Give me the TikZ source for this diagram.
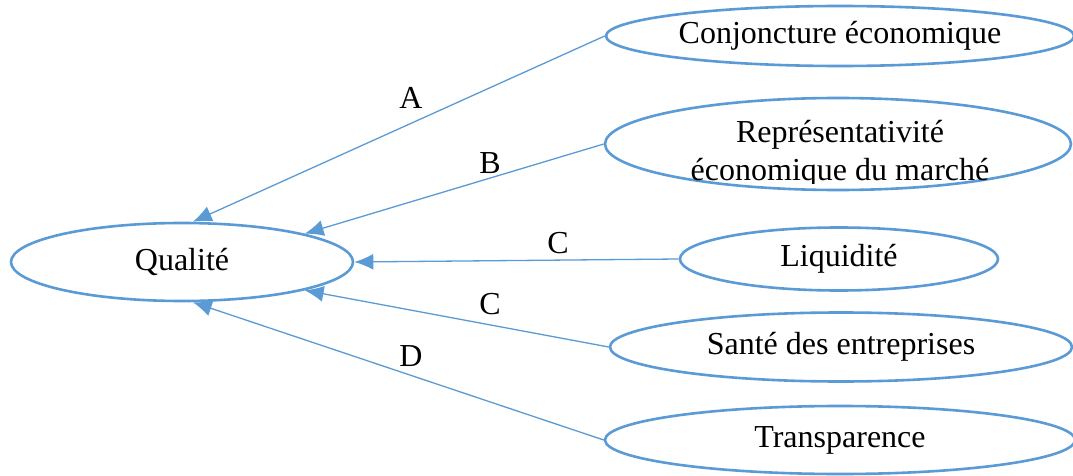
\documentclass[tikz,border=0pt]{standalone}
\usepackage{fontspec}
\setmainfont{Liberation Serif}
\usetikzlibrary{shapes.geometric,arrows.meta}
\definecolor{obl}{HTML}{5B9BD5}
\tikzset{
  ell/.style={draw=obl, line width=2.6pt, ellipse, inner sep=0pt, font=\fontsize{32}{38}\selectfont, text=black},
  conn/.style={draw=obl, line width=1.3pt, -{Latex[length=19pt,width=16pt]}},
  lab/.style={font=\fontsize{32}{38}\selectfont, text=black, inner sep=0pt}
}
\begin{document}
\begin{tikzpicture}[x=1pt,y=-1pt]
\clip (0,0) rectangle (1073,476);
\fill[white] (0,0) rectangle (1073,476);
\node[ell, minimum width=342pt, minimum height=78pt] (qual) at (182,262) {Qualit\'e};
\node[ell, minimum width=468pt, minimum height=60pt] (conj) at (840,36) {Conjoncture \'economique};
\node[ell, minimum width=466pt, minimum height=92pt] (rep) at (838,144) {};
\node[ell, minimum width=318pt, minimum height=63pt] (liq) at (839,259) {Liquidit\'e};
\node[ell, minimum width=462pt, minimum height=69pt] (sante) at (841,347) {Sant\'e des entreprises};
\node[ell, minimum width=470pt, minimum height=68pt] (transp) at (840,440) {Transparence};
\begin{scope}
\clip (600,100) rectangle (1073,183);
\node[lab, align=center, anchor=base] (reptext) at (840,180) {Repr\'esentativit\'e\\\'economique du march\'e};
\end{scope}
\draw[conn] (conj.west) -- (qual.75);
\draw[conn] (rep.west) -- (qual.13);
\draw[conn] (liq.west) -- (qual.east);
\draw[conn] (sante.west) -- (qual.-13);
\draw[conn] (transp.west) -- (qual.-75);
\node[lab] (la) at (411,98) {A};
\node[lab] (lb) at (490,163) {B};
\node[lab] (lc1) at (558,243) {C};
\node[lab] (lc2) at (490,304) {C};
\node[lab] (ld) at (411,356) {D};
\end{tikzpicture}
\end{document}
